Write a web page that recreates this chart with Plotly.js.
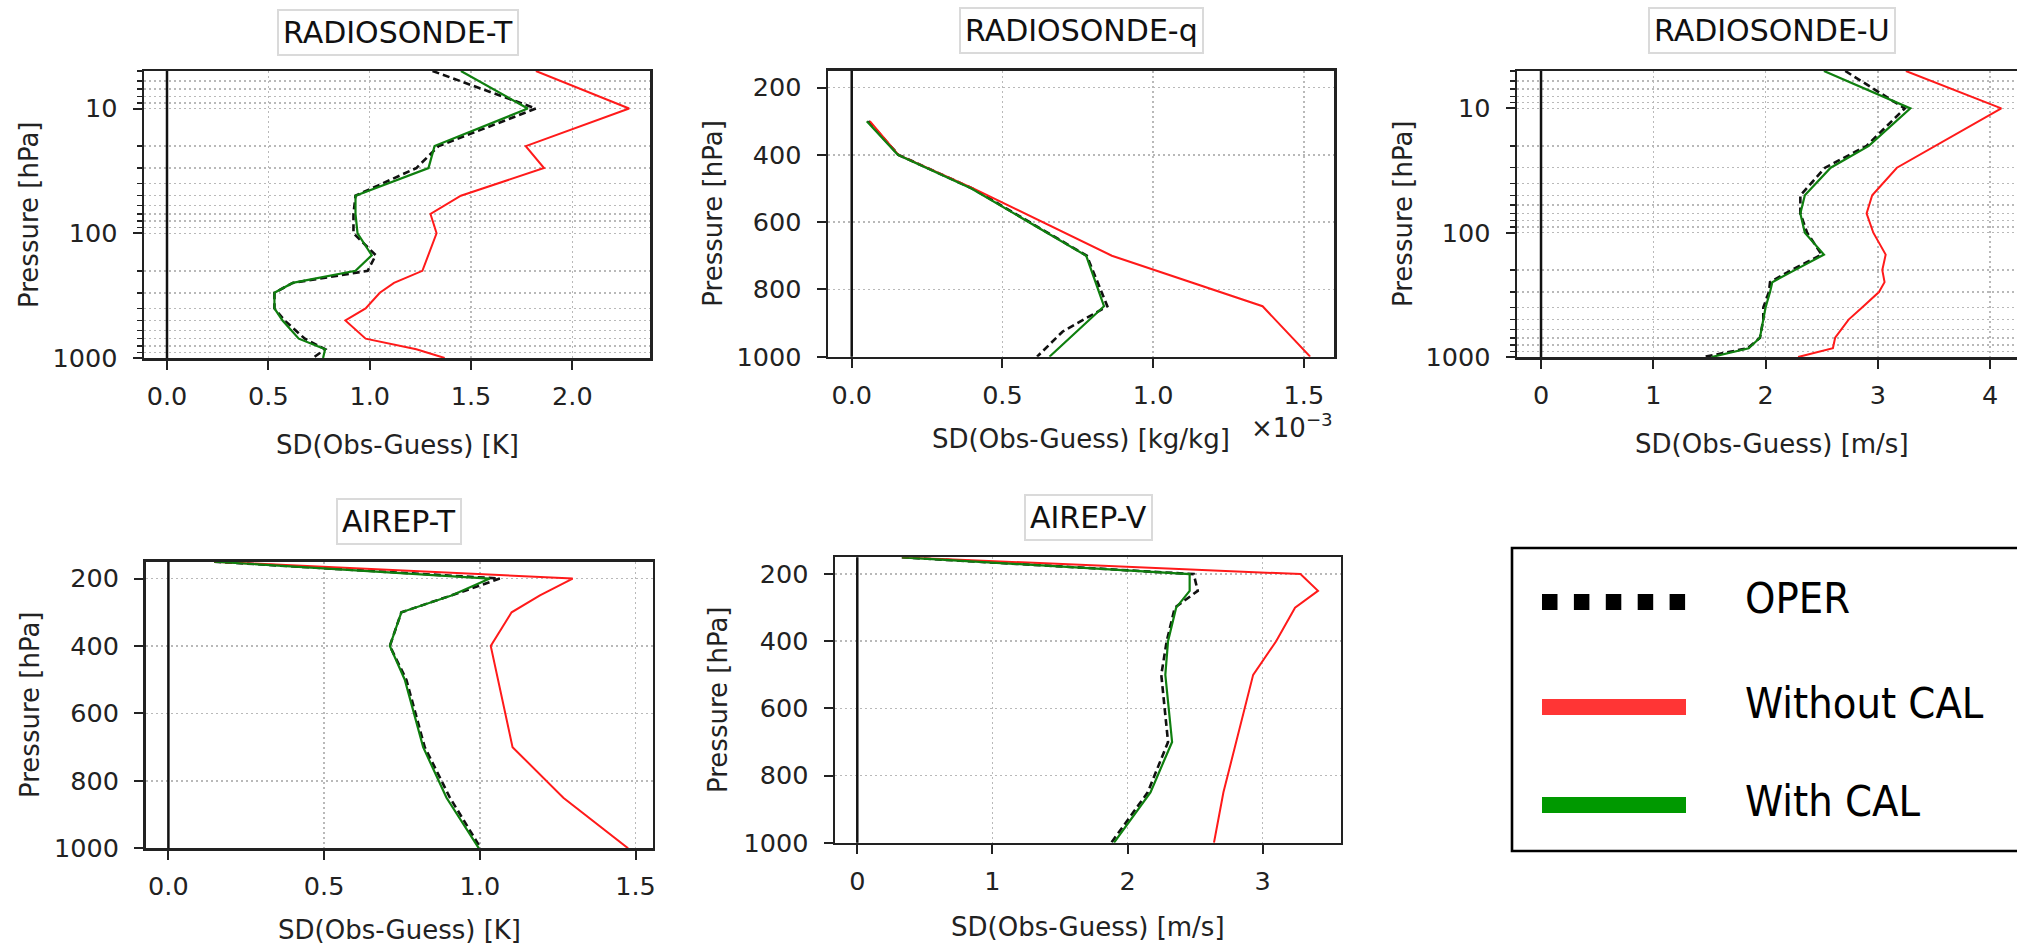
<!DOCTYPE html>
<html>
<head>
<meta charset="utf-8">
<script src="https://cdn.plot.ly/plotly-3.0.1.min.js"></script>
<style>
html,body{margin:0;padding:0;overflow:hidden;background:#fff;width:2017px;height:948px}
#chart{width:2040px;height:948px}
</style>
</head>
<body>
<div id="chart"></div>
<script>
// ---------------- DATA ----------------
const seriesNames = ["OPER", "Without CAL", "With CAL"];

// RADIOSONDE-T  (pressure levels in hPa, SD in K)
const rsT_levels  = [5, 10, 20, 30, 50, 70, 100, 150, 200, 250, 300, 400, 500, 700, 850, 1000];
const rsT_oper    = [1.31, 1.82, 1.34, 1.23, 0.93, 0.92, 0.92, 1.03, 0.99, 0.62, 0.53, 0.53, 0.58, 0.68, 0.78, 0.72];
const rsT_without = [1.82, 2.28, 1.77, 1.86, 1.45, 1.30, 1.33, 1.29, 1.26, 1.12, 1.05, 0.98, 0.88, 0.98, 1.23, 1.37];
const rsT_with    = [1.45, 1.78, 1.32, 1.29, 0.93, 0.93, 0.94, 1.01, 0.93, 0.62, 0.53, 0.53, 0.57, 0.65, 0.78, 0.77];

// RADIOSONDE-q  (SD in kg/kg)
const rsQ_levels  = [300, 400, 500, 700, 850, 925, 1000];
const rsQ_oper    = [0.055e-3, 0.155e-3, 0.40e-3, 0.78e-3, 0.848e-3, 0.70e-3, 0.615e-3];
const rsQ_without = [0.060e-3, 0.155e-3, 0.403e-3, 0.863e-3, 1.363e-3, null, 1.521e-3];
const rsQ_with    = [0.050e-3, 0.153e-3, 0.397e-3, 0.778e-3, 0.837e-3, null, 0.656e-3];

// RADIOSONDE-U  (SD in m/s)
const rsU_levels  = [5, 10, 20, 30, 50, 70, 100, 150, 200, 250, 300, 400, 500, 700, 850, 1000];
const rsU_oper    = [2.71, 3.24, 2.90, 2.53, 2.31, 2.31, 2.37, 2.50, 2.23, 2.04, 2.03, 1.98, 1.98, 1.95, 1.84, 1.45];
const rsU_without = [3.25, 4.10, null, 3.17, 2.95, 2.90, 2.96, 3.07, 3.04, 3.06, 3.01, 2.86, 2.74, 2.62, 2.60, 2.29];
const rsU_with    = [2.52, 3.29, 2.92, 2.58, 2.35, 2.31, 2.35, 2.52, 2.26, 2.06, 2.04, 2.00, 1.98, 1.95, 1.85, 1.52];

// AIREP-T  (SD in K)
const aT_levels   = [150, 200, 250, 300, 400, 500, 700, 850, 1000];
const aT_oper     = [0.147, 1.064, 0.909, 0.748, 0.711, 0.764, 0.823, 0.904, 1.003];
const aT_without  = [0.147, 1.298, 1.193, 1.102, 1.035, null, 1.105, 1.268, 1.476];
const aT_with     = [0.147, 1.032, 0.909, 0.748, 0.711, 0.759, 0.818, 0.893, 0.997];

// AIREP-V  (SD in m/s)
const aV_levels   = [150, 200, 250, 300, 400, 500, 700, 850, 1000];
const aV_oper     = [0.33, 2.49, 2.52, 2.35, 2.29, 2.25, 2.30, 2.15, 1.88];
const aV_without  = [0.33, 3.28, 3.41, 3.24, 3.10, 2.93, null, 2.71, 2.64];
const aV_with     = [0.33, 2.46, 2.46, 2.36, 2.30, 2.28, 2.33, 2.17, 1.90];

// Tick labels
const panelTitles = ["RADIOSONDE-T", "RADIOSONDE-q", "RADIOSONDE-U", "AIREP-T", "AIREP-V"];
const xTitles = ["SD(Obs-Guess) [K]", "SD(Obs-Guess) [kg/kg]", "SD(Obs-Guess) [m/s]", "SD(Obs-Guess) [K]", "SD(Obs-Guess) [m/s]"];
const yTitle = "Pressure [hPa]";
const xTickVals = [[0, 0.5, 1.0, 1.5, 2.0], [0, 0.5e-3, 1.0e-3, 1.5e-3], [0, 1, 2, 3, 4], [0, 0.5, 1.0, 1.5], [0, 1, 2, 3]];
const xTickText = [["0.0", "0.5", "1.0", "1.5", "2.0"], ["0.0", "0.5", "1.0", "1.5"], ["0", "1", "2", "3", "4"], ["0.0", "0.5", "1.0", "1.5"], ["0", "1", "2", "3"]];
const logMajor = [10, 100, 1000];
const logMajorText = ["10", "100", "1000"];
const logMinor = [5, 6, 7, 8, 9, 20, 30, 40, 50, 60, 70, 80, 90, 200, 300, 400, 500, 600, 700, 800, 900];
const linTicks = [200, 400, 600, 800, 1000];
const linTickText = ["200", "400", "600", "800", "1000"];

// ---------------- LAYOUT / STYLE ----------------
const W = 2040, H = 948;
const px = v => v / W;
const py = v => 1 - v / H;
const FONT = "DejaVu Sans, Verdana, sans-serif";
const LEGFONT = "DejaVu Sans Condensed, DejaVu Sans, sans-serif";

const panels = [
  {x0:144,  x1:650,   y0:71,    y1:358,   xr:[-0.1135, 2.383],     log:true,  lv:rsT_levels, d:[rsT_oper, rsT_without, rsT_with], ytx:29.5, xty:445, ttl:[397.5, 32]},
  {x0:828,  x1:1334,  y0:70.7,  y1:356.7, xr:[-0.0787e-3, 1.60e-3], log:false, lv:rsQ_levels, d:[rsQ_oper, rsQ_without, rsQ_with], ytx:713, xty:439, ttl:[1081.5, 31]},
  {x0:1517, x1:2026,  y0:71,    y1:357,   xr:[-0.214, 4.32],       log:true,  lv:rsU_levels, d:[rsU_oper, rsU_without, rsU_with], ytx:1403, xty:444, ttl:[1771.5, 31]},
  {x0:145.5,x1:652.7, y0:561.7, y1:848.3, xr:[-0.0735, 1.555],     log:false, lv:aT_levels,  d:[aT_oper, aT_without, aT_with],   ytx:30, xty:930, ttl:[399, 521.5]},
  {x0:835,  x1:1340.7,y0:557.3, y1:842.7, xr:[-0.165, 3.578],      log:false, lv:aV_levels,  d:[aV_oper, aV_without, aV_with],   ytx:718, xty:927, ttl:[1088, 517]}
];

const lineStyles = [
  {color:"#111111", width:2.6, dash:"7px,4px"},
  {color:"#ff1a1a", width:2.0, dash:"solid"},
  {color:"#0f7f0f", width:2.2, dash:"solid"}
];

const traces = [];
const layout = {
  width: W, height: H,
  margin: {l:0, r:0, t:0, b:0},
  paper_bgcolor: "#fff", plot_bgcolor: "#fff",
  showlegend: false,
  font: {family: FONT, color: "#1a1a1a"},
  shapes: [], annotations: []
};

const gridCol = "#b9b9b9";

panels.forEach((p, i) => {
  const n = i === 0 ? "" : String(i + 1);
  const xa = "xaxis" + n, ya = "yaxis" + n;
  p.d.forEach((vals, k) => {
    traces.push({
      type: "scatter", mode: "lines",
      x: vals, y: p.lv, name: seriesNames[k],
      connectgaps: true,
      xaxis: "x" + n, yaxis: "y" + n,
      line: lineStyles[k], hoverinfo: "skip"
    });
  });
  layout[xa] = {
    domain: [px(p.x0), px(p.x1)], anchor: "y" + n,
    range: p.xr, autorange: false,
    tickmode: "array", tickvals: xTickVals[i], ticktext: xTickText[i],
    ticks: "outside", ticklen: 9, tickwidth: 2, tickcolor: "#222",
    tickfont: {family: FONT, size: 25.5, color: "#222"},
    ticklabelstandoff: 5,
    showline: true, mirror: true, linecolor: "#222", linewidth: 2.5,
    showgrid: true, gridcolor: gridCol, griddash: "2px,3px", gridwidth: 1.5,
    zeroline: false, fixedrange: true
  };
  const yax = {
    domain: [py(p.y1), py(p.y0)], anchor: "x" + n,
    ticks: "outside", ticklen: 9, tickwidth: 2, tickcolor: "#222",
    tickfont: {family: FONT, size: 25.5, color: "#222"},
    ticklabelstandoff: 10,
    showline: true, mirror: true, linecolor: "#222", linewidth: 2.5,
    showgrid: true, gridcolor: gridCol, griddash: "2px,3px", gridwidth: 1.5,
    zeroline: false, fixedrange: true, autorange: false
  };
  if (p.log) {
    yax.type = "log";
    yax.range = [Math.log10(1000), Math.log10(5)];
    yax.tickmode = "array"; yax.tickvals = logMajor; yax.ticktext = logMajorText;
    yax.minor = {tickmode: "array", tickvals: logMinor, ticks: "outside", ticklen: 5, tickwidth: 1.5, tickcolor: "#222",
                 showgrid: true, gridcolor: gridCol, griddash: "2px,3px", gridwidth: 1.5};
  } else {
    yax.type = "linear";
    yax.range = [1000, 150];
    yax.tickmode = "array"; yax.tickvals = linTicks; yax.ticktext = linTickText;
  }
  layout[ya] = yax;

  // zero line
  layout.shapes.push({type: "line", xref: "x" + n, yref: "y" + n + " domain", x0: 0, x1: 0, y0: 0, y1: 1,
                      line: {color: "#111", width: 2.5}, layer: "above"});
  // panel title
  layout.annotations.push({xref: "paper", yref: "paper", x: px(p.ttl[0]), y: py(p.ttl[1]),
    xanchor: "center", yanchor: "middle", showarrow: false, text: panelTitles[i],
    font: {family: FONT, size: 30, color: "#111"},
    bordercolor: "#dadada", borderwidth: 2, borderpad: 4, bgcolor: "#fff"});
  // y title
  layout.annotations.push({xref: "paper", yref: "paper", x: px(p.ytx), y: py((p.y0 + p.y1) / 2),
    xanchor: "center", yanchor: "middle", showarrow: false, text: yTitle, textangle: -90,
    font: {family: FONT, size: 26, color: "#222"}});
  // x title
  layout.annotations.push({xref: "paper", yref: "paper", x: px((p.x0 + p.x1) / 2), y: py(p.xty),
    xanchor: "center", yanchor: "middle", showarrow: false, text: xTitles[i],
    font: {family: FONT, size: 26, color: "#222"}});
});

// exponent label of the q panel
layout.annotations.push({xref: "paper", yref: "paper", x: px(1335), y: py(426),
  xanchor: "right", yanchor: "middle", showarrow: false, text: "×10<sup>−3</sup>",
  font: {family: FONT, size: 26, color: "#222"}});

// ---------------- LEGEND (drawn box) ----------------
const legColors = ["#000000", "#ff3535", "#009900"];
const legY = [602, 707, 805];
const legTextY = [598, 703, 801];
layout.shapes.push({type: "rect", xref: "paper", yref: "paper", x0: px(1512), x1: px(2080), y0: py(851), y1: py(548),
  line: {color: "#000", width: 2.6}, fillcolor: "rgba(0,0,0,0)"});
layout.shapes.push({type: "line", xref: "paper", yref: "paper", x0: px(1542), x1: px(1686), y0: py(legY[0]), y1: py(legY[0]),
  line: {color: legColors[0], width: 16, dash: "15.5px,16.4px"}});
[1, 2].forEach(k => {
  layout.shapes.push({type: "rect", xref: "paper", yref: "paper", x0: px(1542), x1: px(1686), y0: py(legY[k] + 8), y1: py(legY[k] - 8),
    line: {width: 0}, fillcolor: legColors[k]});
});
seriesNames.forEach((s, k) => {
  layout.annotations.push({xref: "paper", yref: "paper", x: px(1743), y: py(legTextY[k]),
    xanchor: "left", yanchor: "middle", showarrow: false, text: s,
    font: {family: LEGFONT, size: 43, color: "#000"}});
});

Plotly.newPlot("chart", traces, layout, {staticPlot: true, displayModeBar: false});
</script>
</body>
</html>
